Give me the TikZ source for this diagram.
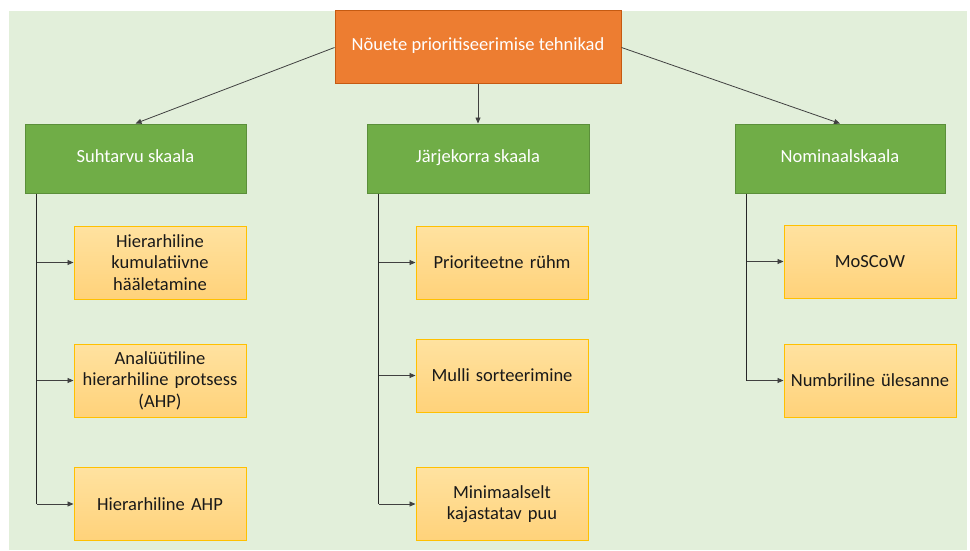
\documentclass[tikz,border=0pt]{standalone}
\usepackage{fontspec}
\setmainfont{Carlito}
\usetikzlibrary{arrows.meta,positioning}
\definecolor{bgpanel}{HTML}{E2EFDA}
\definecolor{rootfill}{HTML}{ED7D31}
\definecolor{rootedge}{HTML}{C55A11}
\definecolor{scalefill}{HTML}{70AD47}
\definecolor{scaleedge}{HTML}{5B8F3A}
\definecolor{techtop}{HTML}{FFE2A0}
\definecolor{techbot}{HTML}{FFD27A}
\definecolor{techedge}{HTML}{FFC000}
\definecolor{linkgrey}{HTML}{404040}
\tikzset{
  boxfont/.style={font=\fontsize{18.5}{21.5}\selectfont},
  rootbox/.style={draw=rootedge, fill=rootfill, line width=1pt, minimum width=286pt,
    minimum height=73pt, text=white, boxfont, inner sep=2pt,
    text height=0.72em, text depth=0.2em},
  scalebox/.style={draw=scaleedge, fill=scalefill, line width=1pt, minimum height=69pt,
    text=white, boxfont, inner sep=2pt, text height=0.9em, text depth=0.05em},
  techbox/.style={draw=techedge, top color=techtop, bottom color=techbot, line width=1pt,
    minimum width=172pt, minimum height=73pt, text width=168pt, align=center,
    boxfont, inner sep=2pt, text=black!90},
  link/.style={draw=linkgrey, line width=0.8pt, -{Triangle[length=6pt,width=5pt]}},
  trunk/.style={draw=black!85, line width=1.6pt},
}
\begin{document}
\begin{tikzpicture}[x=1pt,y=-1pt]
  \useasboundingbox (0,0) rectangle (970,551);
  \fill[bgpanel] (9,11) rectangle (967,550);

  % root
  \node[rootbox] (root) at (478,47.5) {Nõuete prioritiseerimise tehnikad};

  % scale types
  \node[scalebox, minimum width=221pt] (ratio) at (135.5,158.5) {Suhtarvu skaala};
  \node[scalebox, minimum width=222pt] (ordinal) at (478,158.5) {Järjekorra skaala};
  \node[scalebox, minimum width=210pt] (nominal) at (840,158.5) {Nominaalskaala};

  % techniques
  \node[techbox] (t11) at (160,262.5) {Hierarhiline\\kumulatiivne\\hääletamine};
  \node[techbox] (t12) at (160,380.5) {Analüütiline\\hierarhiline protsess\\(AHP)};
  \node[techbox] (t13) at (160,504) {Hierarhiline AHP};

  \node[techbox] (t21) at (502,262.5) {Prioriteetne rühm};
  \node[techbox] (t22) at (502,375.5) {Mulli sorteerimine};
  \node[techbox] (t23) at (502,504) {Minimaalselt\\kajastatav puu};

  \node[techbox] (t31) at (870,261.5) {MoSCoW};
  \node[techbox] (t32) at (870,380.5) {Numbriline ülesanne};

  % root to scale types
  \draw[link] (root.west) -- (ratio.north);
  \draw[link] (root.south) -- (ordinal.north);
  \draw[link] (root.east) -- (nominal.north);

  % trunk coordinates
  \coordinate (r0) at ([xshift=12pt]ratio.south west);
  \coordinate (o0) at ([xshift=12pt]ordinal.south west);
  \coordinate (n0) at ([xshift=12pt]nominal.south west);

  \draw[trunk] (r0) -- (r0 |- t13.west);
  \draw[trunk] (o0) -- (o0 |- t23.west);
  \draw[trunk] (n0) -- (n0 |- t32.west);

  \foreach \t in {t11,t12,t13} \draw[link] (r0 |- \t.west) -- (\t.west);
  \foreach \t in {t21,t22,t23} \draw[link] (o0 |- \t.west) -- (\t.west);
  \foreach \t in {t31,t32} \draw[link] (n0 |- \t.west) -- (\t.west);
\end{tikzpicture}
\end{document}
